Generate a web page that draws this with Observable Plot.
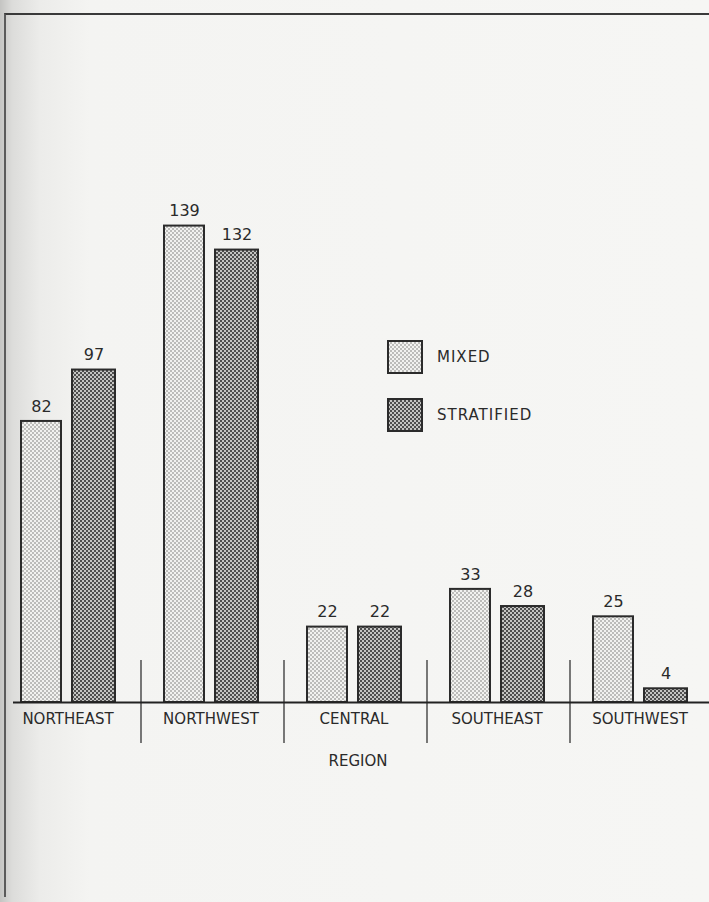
<!DOCTYPE html>
<html>
<head>
<meta charset="utf-8">
<script src="https://cdn.jsdelivr.net/npm/d3@7"></script>
<script src="https://cdn.jsdelivr.net/npm/@observablehq/plot@0.6"></script>
<style>
  html, body { margin: 0; padding: 0; }
  body {
    width: 709px; height: 902px; overflow: hidden; position: relative;
    background: linear-gradient(to right, #c4c4c2 0px, #dcdcda 12px, #ececea 40px, #f4f4f2 90px, #f6f6f4 100%);
  }
  #chart { position: absolute; left: 0; top: 0; }
  #frame {
    position: absolute; left: 4px; top: 13px; width: 720px; height: 882px;
    border-top: 2px solid #3a3a3a; border-left: 2px solid #5a5a5a;
    pointer-events: none;
  }
</style>
</head>
<body>
<div id="chart"></div>
<div id="frame"></div>
<script>
// ---- data ----
const regions = ["NORTHEAST", "NORTHWEST", "CENTRAL", "SOUTHEAST", "SOUTHWEST"];
const mixed = [82, 139, 22, 33, 25];
const stratified = [97, 132, 22, 28, 4];
const seriesLabels = ["MIXED", "STRATIFIED"];
const axisTitle = "REGION";

const rows = regions.map((r, i) => ({region: r, mixed: mixed[i], stratified: stratified[i]}));

const font = "DejaVu Sans, sans-serif";
const ink = "#2a2a2a";

const plot = Plot.plot({
  width: 709,
  height: 902,
  marginTop: 15,
  marginLeft: 0,
  marginRight: 0,
  marginBottom: 159,
  style: {background: "transparent", fontFamily: font, color: ink, overflow: "visible"},
  x: {type: "band", domain: regions, range: [-4, 711], padding: 0, axis: null},
  y: {domain: [0, 100], range: [702, 359.25], axis: null},
  marks: [
    // group dividers
    Plot.ruleX(regions.slice(1), {x: d => d, dx: -70, insetTop: 645, stroke: "#333", strokeWidth: 1.3}),
    // bars
    Plot.barY(rows, {x: "region", y: "mixed", insetLeft: 25, insetRight: 78,
      fill: "url(#patMixed)", stroke: "#2b2b2b", strokeWidth: 2}),
    Plot.barY(rows, {x: "region", y: "stratified", insetLeft: 76, insetRight: 24,
      fill: "url(#patStrat)", stroke: "#2b2b2b", strokeWidth: 2}),
    // baseline
    Plot.ruleY([0], {insetLeft: 13, stroke: "#222", strokeWidth: 2}),
    // value labels
    Plot.text(rows, {x: "region", y: "mixed", text: d => String(d.mixed), dx: -26.5, dy: -15,
      fontSize: 16, fill: ink, fontFamily: font, letterSpacing: "1px"}),
    Plot.text(rows, {x: "region", y: "stratified", text: d => String(d.stratified), dx: 26, dy: -15,
      fontSize: 16, fill: ink, fontFamily: font, letterSpacing: "1px"}),
    // region labels
    Plot.text(regions, {x: d => d, text: d => d, frameAnchor: "bottom", dy: -20,
      fontSize: 15, fill: ink, fontFamily: font, letterSpacing: "0.9px"}),
    // axis title
    Plot.text([axisTitle], {text: d => d, frameAnchor: "bottom", dx: 3, dy: 22,
      fontSize: 15, fill: ink, fontFamily: font, letterSpacing: "0.9px"})
  ]
});

// halftone patterns
const svg = d3.select(plot);
const defs = svg.insert("defs", ":first-child");
function halftone(id, bg, dot) {
  const p = defs.append("pattern").attr("id", id).attr("patternUnits", "userSpaceOnUse")
    .attr("width", 4).attr("height", 4);
  p.append("rect").attr("width", 4).attr("height", 4).attr("fill", bg);
  p.append("rect").attr("x", 0).attr("y", 0).attr("width", 2).attr("height", 2).attr("fill", dot);
  p.append("rect").attr("x", 2).attr("y", 2).attr("width", 2).attr("height", 2).attr("fill", dot);
}
halftone("patMixed", "#f2f2f0", "#bcbcba");
halftone("patStrat", "#c4c4c2", "#4e4e4e");

// legend
const legend = svg.append("g").attr("font-family", font).attr("font-size", 15)
  .attr("fill", ink).attr("text-anchor", "start");
const legendItems = [
  {label: seriesLabels[0], fill: "url(#patMixed)"},
  {label: seriesLabels[1], fill: "url(#patStrat)"}
];
legendItems.forEach((it, i) => {
  const y0 = 341 + i * 58;
  legend.append("rect").attr("x", 388).attr("y", y0).attr("width", 34).attr("height", 32)
    .attr("fill", it.fill).attr("stroke", "#2b2b2b").attr("stroke-width", 2);
  legend.append("text").attr("x", 437).attr("y", y0 + 16).attr("dy", "0.35em")
    .attr("text-anchor", "start").attr("letter-spacing", "1px").text(it.label);
});

document.getElementById("chart").appendChild(plot);
</script>
</body>
</html>
